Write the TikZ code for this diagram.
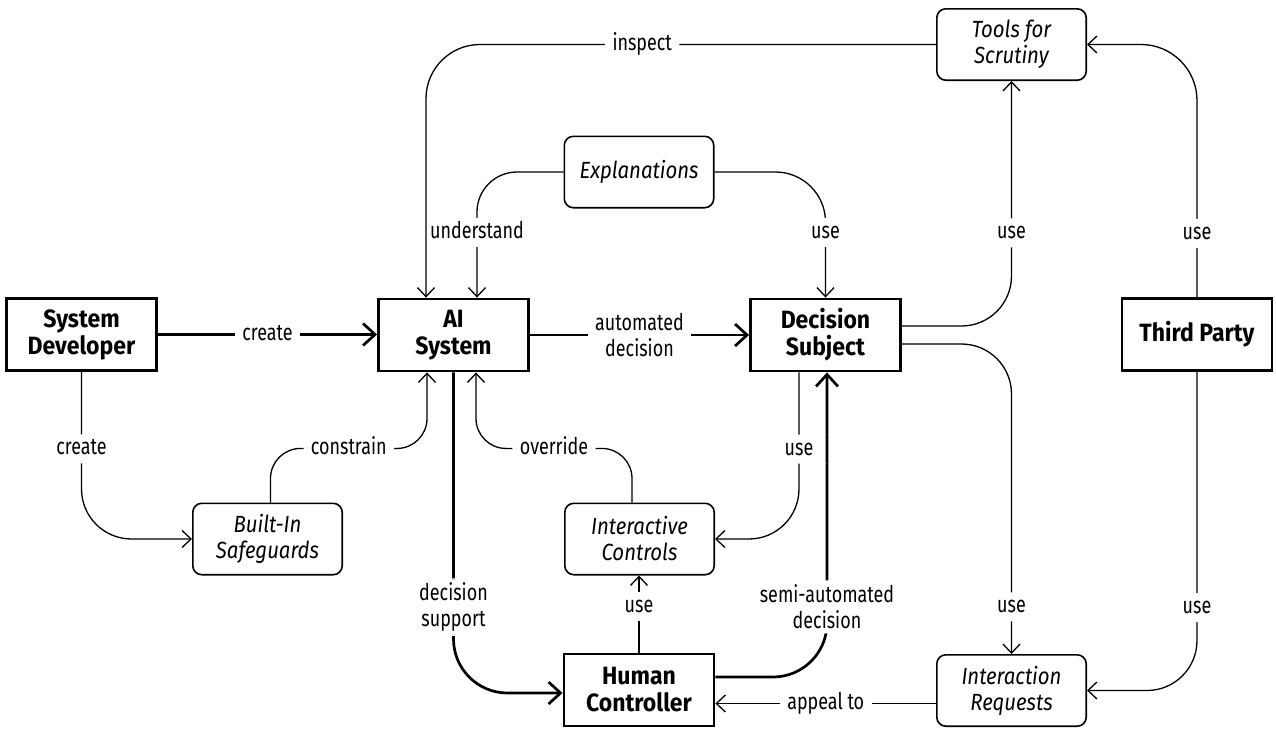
\documentclass[tikz,border=0pt]{standalone}
\usepackage{fontspec}
\setmainfont{Fira Sans}[FakeStretch=0.78]
\newfontfamily\actorfam{Fira Sans}[FakeStretch=0.92]
\newfontfamily\artfam{Fira Sans}[FakeStretch=0.87]
\usetikzlibrary{arrows.meta,calc}

\begin{document}
\begin{tikzpicture}[x=0.5pt,y=-0.5pt,
  actor/.style={draw, line width=1.35pt, minimum width=75.1pt, minimum height=36.1pt,
    align=center, inner sep=2pt, font=\actorfam\bfseries\fontsize{12.5}{13.5}\selectfont},
  artefact/.style={draw, line width=0.8pt, rounded corners=4.5pt, minimum width=74.7pt,
    minimum height=35.7pt, align=center, inner sep=2pt, font=\artfam\itshape\fontsize{11.7}{13}\selectfont},
  flow/.style={line width=0.65pt, -{Straight Barb[length=4.5pt,width=8.5pt]}},
  major/.style={line width=1.35pt, -{Straight Barb[length=6pt,width=11pt]}},
  lbl/.style={fill=white, font=\fontsize{11.5}{13}\selectfont, inner xsep=3.7pt,
    inner ysep=1.75pt, text height=8.5pt, text depth=2.5pt},
  lbltwo/.style={fill=white, font=\fontsize{11.5}{13}\selectfont, inner xsep=3.7pt,
    inner ysep=2.2pt, align=center},
]
\useasboundingbox (0,0) rectangle (1276,729);

% actors
\node[actor] (SD) at (81.5,334.5) {System\\Developer};
\node[actor] (AI) at (453.5,335) {AI\\System};
\node[actor] (DS) at (825.5,335) {Decision\\Subject};
\node[actor] (TP) at (1197,334.5) {Third Party};
\node[actor] (HC) at (639,690) {Human\\Controller};

% artefacts
\node[artefact] (BIS) at (267.5,539) {Built-In\\Safeguards};
\node[artefact] (IC) at (639.5,539) {Interactive\\Controls};
\node[artefact] (EX) at (639,172) {Explanations};
\node[artefact] (TS) at (1011.5,44.5) {Tools for\\Scrutiny};
\node[artefact] (IR) at (1011.5,690.5) {Interaction\\Requests};

% main decision flow
\draw[major] (SD.east) -- node[lbl]{create} (SD.east -| AI.west);
\draw[major] (AI.east) -- node[lbltwo]{automated\\decision} (AI.east -| DS.west);
\draw[major, rounded corners=27pt] (AI.south) |- node[lbltwo,pos=0.366]{decision\\support} ($(HC.west)+(0,3)$);
\draw[major, rounded corners=27pt] ($(HC.east)+(0,-13)$) -| node[lbltwo,pos=0.615]{semi-automated\\decision} ($(DS.south)+(1.5,0)$);

% developer side
\draw[flow, rounded corners=25pt] (SD.south) |- node[lbl,pos=0.23]{create} (BIS.west);
\coordinate (cn) at ($(AI.south)+(-26.5,76)$);
\draw[flow, rounded corners=15pt] ($(BIS.north)+(3,0)$) |- node[lbl,pos=0.75]{constrain} (cn) -- ($(AI.south)+(-26.5,0)$);

% controls
\coordinate (ov) at ($(AI.south)+(22.5,76)$);
\draw[flow, rounded corners=15pt] ($(IC.north)+(-7.5,0)$) |- node[lbl,pos=0.75]{override} (ov) -- ($(AI.south)+(22.5,0)$);
\draw[flow, rounded corners=25pt] ($(DS.south)+(-26.5,0)$) |- node[lbl,pos=0.23]{use} (IC.east);
\draw[flow] (HC.north) -- node[lbl,pos=0.6]{use} (HC.north |- IC.south);

% explanations and scrutiny
\draw[flow, rounded corners=20pt] (EX.west) -| node[lbl,pos=0.74]{understand} ($(AI.north)+(23.5,0)$);
\draw[flow, rounded corners=25pt] (EX.east) -| node[lbl,pos=0.74]{use} (DS.north);
\draw[flow, rounded corners=27pt] (TS.west) -| node[lbl,pos=0.288]{inspect} ($(AI.north)+(-27.5,0)$);
\draw[flow, rounded corners=25pt] ($(DS.east)+(0,-9)$) -| node[lbl,pos=0.69]{use} (TS.south);
\draw[flow, rounded corners=28pt] (TP.north) |- node[lbl,pos=0.126]{use} (TS.east);

% interaction requests
\draw[flow, rounded corners=25pt] ($(DS.east)+(0,9)$) -| node[lbl,pos=0.924]{use} (IR.north);
\draw[flow, rounded corners=25pt] (TP.south) |- node[lbl,pos=0.37]{use} (IR.east);
\coordinate (ap) at ($(IR.west)+(0,13)$);
\draw[flow] (ap) -- node[lbl]{appeal to} (ap -| HC.east);
\end{tikzpicture}
\end{document}
